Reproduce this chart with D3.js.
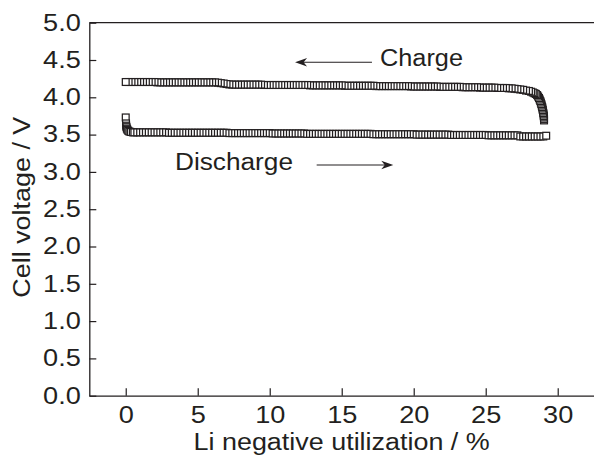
<!DOCTYPE html>
<html>
<head>
<meta charset="utf-8">
<script src="https://cdn.jsdelivr.net/npm/d3@7"></script>
<style>
  body { margin: 0; background: #fff; }
  text { font-family: "Liberation Sans", Arial, sans-serif; fill: #231f20; }
</style>
</head>
<body>
<svg id="chart" width="594" height="456"></svg>
<script>
// tick values
const xTicks = [0, 5, 10, 15, 20, 25, 30];
const yTicks = [0.0, 0.5, 1.0, 1.5, 2.0, 2.5, 3.0, 3.5, 4.0, 4.5, 5.0];

// charge curve, in measurement order (starts at the right end, runs left)
const chargePoints = [
  [29.05,3.69],[29.05,3.71],[29.04,3.73],[29.03,3.75],[29.02,3.77],[29.00,3.79],[28.98,3.81],[28.96,3.83],[28.94,3.85],[28.92,3.87],
  [28.89,3.89],[28.86,3.91],[28.83,3.93],[28.79,3.95],[28.75,3.97],[28.70,3.99],[28.64,4.01],[28.57,4.03],[28.48,4.045],[28.38,4.055],
  [28.27,4.065],[28.15,4.075],[28.0,4.085],[27.8,4.09],[27.6,4.10],[27.4,4.105],[27.2,4.11],[27.0,4.115],[26.8,4.12],[26.6,4.12],
  [26.4,4.125],[26.2,4.125],[26.0,4.125],[25.8,4.125],[25.6,4.13],[25.4,4.13],[25.2,4.13],[25.0,4.13],[24.8,4.13],[24.6,4.13],
  [24.4,4.135],[24.2,4.135],[24.0,4.135],[23.8,4.135],[23.6,4.135],[23.4,4.135],[23.2,4.14],[23.0,4.14],[22.8,4.14],[22.6,4.14],
  [22.4,4.14],[22.2,4.14],[22.0,4.14],[21.8,4.14],[21.6,4.145],[21.4,4.145],[21.2,4.145],[21.0,4.145],[20.8,4.145],[20.6,4.145],
  [20.4,4.145],[20.2,4.145],[20.0,4.145],[19.8,4.145],[19.6,4.15],[19.4,4.15],[19.2,4.15],[19.0,4.15],[18.8,4.15],[18.6,4.15],
  [18.4,4.15],[18.2,4.15],[18.0,4.15],[17.8,4.15],[17.6,4.15],[17.4,4.15],[17.2,4.155],[17.0,4.155],[16.8,4.155],[16.6,4.155],
  [16.4,4.155],[16.2,4.155],[16.0,4.155],[15.8,4.155],[15.6,4.155],[15.4,4.155],[15.2,4.155],[15.0,4.16],[14.8,4.16],[14.6,4.16],
  [14.4,4.16],[14.2,4.16],[14.0,4.16],[13.8,4.16],[13.6,4.16],[13.4,4.16],[13.2,4.16],[13.0,4.16],[12.8,4.16],[12.6,4.165],
  [12.4,4.165],[12.2,4.165],[12.0,4.165],[11.8,4.165],[11.6,4.165],[11.4,4.165],[11.2,4.165],[11.0,4.165],[10.8,4.165],[10.6,4.165],
  [10.4,4.165],[10.2,4.165],[10.0,4.165],[9.8,4.165],[9.6,4.165],[9.4,4.17],[9.2,4.17],[9.0,4.17],[8.8,4.17],[8.6,4.17],
  [8.4,4.17],[8.2,4.17],[8.0,4.17],[7.8,4.17],[7.6,4.17],[7.4,4.17],[7.2,4.172],[7.0,4.178],[6.8,4.185],[6.6,4.19],
  [6.4,4.196],[6.2,4.2],[6.0,4.2],[5.8,4.2],[5.6,4.2],[5.4,4.2],[5.2,4.2],[5.0,4.2],[4.8,4.2],[4.6,4.2],
  [4.4,4.2],[4.2,4.2],[4.0,4.2],[3.8,4.2],[3.6,4.2],[3.4,4.2],[3.2,4.2],[3.0,4.2],[2.8,4.2],[2.6,4.2],
  [2.4,4.2],[2.2,4.2],[2.0,4.205],[1.8,4.205],[1.6,4.205],[1.4,4.205],[1.2,4.205],[1.0,4.205],[0.8,4.205],[0.6,4.205],
  [0.4,4.205],[0.2,4.205],[0.0,4.205]
];

// discharge curve, left to right
const dischargePoints = [
  [0,3.73],[0.02,3.65],[0.03,3.62],[0.05,3.60],[0.08,3.58],[0.12,3.565],[0.18,3.55],[0.26,3.54],[0.36,3.535],[0.5,3.53],
  [0.6,3.53],[0.8,3.53],[1.0,3.53],[1.2,3.53],[1.4,3.53],[1.6,3.53],[1.8,3.53],[2.0,3.53],[2.2,3.53],[2.4,3.53],
  [2.6,3.53],[2.8,3.53],[3.0,3.525],[3.2,3.525],[3.4,3.525],[3.6,3.525],[3.8,3.525],[4.0,3.525],[4.2,3.525],[4.4,3.525],
  [4.6,3.525],[4.8,3.525],[5.0,3.525],[5.2,3.525],[5.4,3.525],[5.6,3.525],[5.8,3.525],[6.0,3.525],[6.2,3.525],[6.4,3.525],
  [6.6,3.525],[6.8,3.525],[7.0,3.525],[7.2,3.52],[7.4,3.52],[7.6,3.52],[7.8,3.52],[8.0,3.52],[8.2,3.52],[8.4,3.52],
  [8.6,3.52],[8.8,3.52],[9.0,3.52],[9.2,3.52],[9.4,3.52],[9.6,3.52],[9.8,3.52],[10.0,3.52],[10.2,3.515],[10.4,3.515],
  [10.6,3.515],[10.8,3.515],[11.0,3.515],[11.2,3.515],[11.4,3.515],[11.6,3.515],[11.8,3.515],[12.0,3.515],[12.2,3.515],[12.4,3.515],
  [12.6,3.51],[12.8,3.51],[13.0,3.51],[13.2,3.51],[13.4,3.51],[13.6,3.51],[13.8,3.51],[14.0,3.51],[14.2,3.51],[14.4,3.51],
  [14.6,3.51],[14.8,3.51],[15.0,3.51],[15.2,3.51],[15.4,3.51],[15.6,3.51],[15.8,3.51],[16.0,3.51],[16.2,3.51],[16.4,3.51],
  [16.6,3.51],[16.8,3.51],[17.0,3.51],[17.2,3.505],[17.4,3.505],[17.6,3.505],[17.8,3.505],[18.0,3.505],[18.2,3.505],[18.4,3.505],
  [18.6,3.505],[18.8,3.505],[19.0,3.505],[19.2,3.505],[19.4,3.505],[19.6,3.505],[19.8,3.505],[20.0,3.505],[20.2,3.50],[20.4,3.50],
  [20.6,3.50],[20.8,3.50],[21.0,3.50],[21.2,3.50],[21.4,3.50],[21.6,3.50],[21.8,3.50],[22.0,3.50],[22.2,3.50],[22.4,3.50],
  [22.6,3.495],[22.8,3.495],[23.0,3.495],[23.2,3.495],[23.4,3.495],[23.6,3.495],[23.8,3.495],[24.0,3.495],[24.2,3.495],[24.4,3.495],
  [24.6,3.495],[24.8,3.495],[25.0,3.495],[25.2,3.49],[25.4,3.49],[25.6,3.49],[25.8,3.49],[26.0,3.49],[26.2,3.49],[26.4,3.49],
  [26.6,3.49],[26.8,3.49],[27.0,3.49],[27.2,3.49],[27.4,3.475],[27.6,3.475],[27.8,3.475],[28.0,3.475],[28.2,3.475],[28.4,3.475],
  [28.6,3.475],[28.8,3.475],[29.0,3.475],[29.2,3.485]
];

// annotation anchors in data units
const chargeLabel = [17.66, 4.42];
const chargeArrow = [[17.1, 4.469], [11.76, 4.469]];
const dischargeLabel = [3.42, 3.025];
const dischargeArrow = [[13.26, 3.093], [18.58, 3.093]];

const ink = '#231f20';
const fontSize = 23;
const stretchK = 1.17;

const svg = d3.select('#chart');
const plotLeft = 89.3, plotRight = 594, plotTop = 22.7, plotBottom = 395.7;

const x = d3.scaleLinear().domain([-2.53, 32.52]).range([plotLeft, plotRight]);
const y = d3.scaleLinear().domain([0, 5]).range([plotBottom, plotTop]);

// widen glyphs a little, the source font is broader than Arial
function stretch(sel, k) {
  sel.each(function() {
    const w = this.getComputedTextLength();
    d3.select(this).attr('textLength', w * k).attr('lengthAdjust', 'spacingAndGlyphs');
  });
}

// axes
const xAxis = svg.append('g')
  .attr('transform', `translate(0,${plotBottom})`)
  .call(d3.axisBottom(x).tickValues(xTicks).tickSize(-7.5).tickSizeOuter(0).tickPadding(11.3).tickFormat(d3.format('d')));

const yAxis = svg.append('g')
  .attr('transform', `translate(${plotLeft},0)`)
  .call(d3.axisLeft(y).tickValues(yTicks).tickSize(-7).tickSizeOuter(0).tickPadding(8.5).tickFormat(d3.format('.1f')));

[xAxis, yAxis].forEach(ax => {
  ax.attr('font-size', fontSize).attr('font-family', null);
  ax.select('.domain').attr('stroke', ink).attr('stroke-width', 1.3);
  ax.selectAll('.tick line').attr('stroke', ink).attr('stroke-width', 1.2);
  ax.selectAll('.tick text').attr('fill', ink).call(stretch, 1.18);
});

// top frame line
svg.append('line')
  .attr('x1', plotLeft).attr('x2', plotRight)
  .attr('y1', plotTop).attr('y2', plotTop)
  .attr('stroke', ink).attr('stroke-width', 1.3);

// axis titles
svg.append('text')
  .attr('x', (plotLeft + plotRight) / 2)
  .attr('y', 450)
  .attr('text-anchor', 'middle')
  .style('font-size', fontSize + 'px')
  .text('Li negative utilization / %')
  .call(stretch, stretchK);

svg.append('text')
  .attr('transform', `translate(30,${(plotTop + plotBottom) / 2 - 2}) rotate(-90)`)
  .attr('text-anchor', 'middle')
  .style('font-size', fontSize + 'px')
  .text('Cell voltage / V')
  .call(stretch, stretchK);

// data markers: open squares
const box = 6.8;
function drawSeries(points) {
  svg.append('g')
    .selectAll('rect')
    .data(points)
    .join('rect')
    .attr('x', d => x(d[0]) - box / 2)
    .attr('y', d => y(d[1]) - box / 2)
    .attr('width', box)
    .attr('height', box)
    .attr('fill', '#fff')
    .attr('stroke', ink)
    .attr('stroke-width', 1.25);
}
drawSeries(dischargePoints);
drawSeries(chargePoints);

// arrows
function arrow(pts) {
  const [x0, y0] = [x(pts[0][0]), y(pts[0][1])];
  const [tx, ty] = [x(pts[1][0]), y(pts[1][1])];
  const dir = tx > x0 ? 1 : -1;
  svg.append('line')
    .attr('x1', x0).attr('y1', y0)
    .attr('x2', tx - dir * 6).attr('y2', ty)
    .attr('stroke', ink).attr('stroke-width', 1.1);
  svg.append('path')
    .attr('d', `M${tx},${ty} L${tx - dir * 12},${ty - 4.2} L${tx - dir * 8.5},${ty} L${tx - dir * 12},${ty + 4.2} Z`)
    .attr('fill', ink);
}
arrow(chargeArrow);
arrow(dischargeArrow);

// labels
svg.append('text')
  .attr('x', x(chargeLabel[0])).attr('y', y(chargeLabel[1]))
  .style('font-size', fontSize + 'px')
  .text('Charge')
  .call(stretch, 1.1);

svg.append('text')
  .attr('x', x(dischargeLabel[0])).attr('y', y(dischargeLabel[1]))
  .style('font-size', fontSize + 'px')
  .text('Discharge')
  .call(stretch, 1.14);
</script>
</body>
</html>
